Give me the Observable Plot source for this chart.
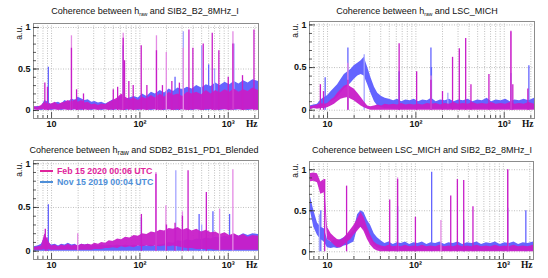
<!DOCTYPE html>
<html><head><meta charset="utf-8">
<script src="https://cdn.jsdelivr.net/npm/d3@7"></script>
<script src="https://cdn.jsdelivr.net/npm/@observablehq/plot@0.6"></script>
<style>
html,body{margin:0;padding:0;background:#fff;}
#wrap{position:relative;width:548px;height:278px;overflow:hidden;font-family:"Liberation Sans",Arial,sans-serif;color:#111;}
.panel{position:absolute;width:274px;height:139px;}
.title{position:absolute;white-space:nowrap;font-size:9px;line-height:11px;transform:translateX(-50%);}
.title sub{vertical-align:-2px;line-height:0;}
.lg{position:absolute;white-space:nowrap;font-weight:bold;font-size:8.8px;line-height:10px;}
.lgline{position:absolute;width:13px;height:2px;}
</style></head><body><div id="wrap"></div>
<script>
// ---------- data ----------
const xDomain = [6.25, 2200];
const F = [6.25,7,7.7,8.4,9.2,10,11,12,13,14.2,15.5,17,18.5,20,22,24,26,28.5,31,34,37,41,45,50,56,62,69,77,86,96,107,120,135,150,170,190,215,240,270,305,345,390,440,500,565,640,720,810,920,1040,1170,1320,1490,1680,1900,2200];

// Panel 1: h_raw vs SIB2_B2_8MHz_I
const m1Lo = [0.01,0.00,0.01,0.01,0.00,0.01,0.01,0.00,0.01,0.01,0.00,0.01,0.01,0.00,0.01,0.01,0.00,0.01,0.01,0.00,0.01,0.01,0.00,0.01,0.01,0.00,0.01,0.01,0.00,0.01,0.01,0.00,0.01,0.01,0.00,0.01,0.01,0.00,0.01,0.01,0.00,0.01,0.01,0.00,0.01,0.01,0.00,0.01,0.01,0.00,0.01,0.01,0.00,0.01,0.01,0.00];
const m1Hi = [0.05,0.04,0.06,0.10,0.08,0.08,0.10,0.07,0.09,0.10,0.12,0.10,0.13,0.10,0.12,0.09,0.10,0.07,0.08,0.06,0.08,0.07,0.10,0.12,0.15,0.20,0.16,0.13,0.15,0.12,0.16,0.14,0.18,0.15,0.20,0.16,0.22,0.18,0.20,0.17,0.22,0.20,0.22,0.19,0.24,0.20,0.24,0.21,0.25,0.22,0.26,0.22,0.25,0.23,0.27,0.24];
const b1Lo = [0.01,0.01,0.00,0.01,0.01,0.00,0.01,0.01,0.00,0.01,0.01,0.00,0.01,0.01,0.00,0.01,0.01,0.00,0.01,0.01,0.00,0.01,0.01,0.00,0.01,0.01,0.00,0.01,0.01,0.00,0.01,0.01,0.00,0.01,0.01,0.00,0.01,0.01,0.00,0.01,0.01,0.00,0.01,0.01,0.00,0.01,0.01,0.00,0.01,0.01,0.00,0.01,0.01,0.00,0.01,0.01];
const b1Hi = [0.04,0.05,0.05,0.12,0.10,0.07,0.09,0.10,0.08,0.12,0.10,0.14,0.12,0.16,0.14,0.12,0.13,0.10,0.11,0.09,0.10,0.08,0.10,0.13,0.12,0.18,0.14,0.15,0.17,0.15,0.20,0.17,0.22,0.20,0.24,0.21,0.26,0.23,0.27,0.25,0.28,0.26,0.30,0.27,0.31,0.29,0.33,0.30,0.34,0.31,0.35,0.32,0.36,0.33,0.37,0.35];
const m1Lines = [[8.4,0.33],[9.0,0.28],[16.8,0.75],[19.2,0.25],[23,0.2],[50,0.25],[56,0.28],[64.7,0.87],[67,0.6],[75,0.35],[84,0.3],[103.5,0.78],[120,0.3],[154,0.72],[180,0.3],[230,0.35],[280,0.33],[359,0.97],[398,0.75],[521,0.8],[659,0.93],[783,0.72],[1000,0.4],[1130,0.8],[1450,0.42],[1955,0.97]];
const m1Light = [[16.8,0.9],[64.7,0.93],[154,0.9],[199,0.7],[310,0.75],[1130,0.95]];
const b1Lines = [[9.2,0.52],[64.7,0.78],[250,0.4],[600,0.55]];
const b1Light = [[310,0.95],[500,0.78],[700,0.5],[1160,0.8]];

// Panel 2: h_raw vs LSC_MICH
const m2Lo = [0.00,0.02,0.01,0.02,0.02,0.03,0.05,0.07,0.10,0.13,0.14,0.15,0.13,0.11,0.08,0.05,0.03,0.01,0.00,0.00,0.00,0.00,0.00,0.00,0.00,0.00,0.00,0.00,0.00,0.00,0.00,0.00,0.00,0.00,0.00,0.00,0.00,0.00,0.00,0.00,0.00,0.00,0.00,0.00,0.00,0.00,0.00,0.00,0.00,0.00,0.00,0.00,0.00,0.00,0.00,0.00];
const m2Hi = [0.04,0.05,0.06,0.08,0.07,0.08,0.12,0.15,0.20,0.24,0.28,0.30,0.27,0.25,0.20,0.15,0.10,0.05,0.04,0.05,0.06,0.05,0.07,0.06,0.07,0.06,0.08,0.06,0.07,0.06,0.07,0.06,0.08,0.07,0.08,0.06,0.08,0.07,0.09,0.07,0.08,0.07,0.09,0.07,0.08,0.07,0.09,0.07,0.08,0.07,0.09,0.07,0.08,0.07,0.09,0.07];
const b2Lo = [0.01,0.02,0.02,0.03,0.05,0.07,0.10,0.12,0.15,0.20,0.25,0.28,0.32,0.36,0.40,0.42,0.40,0.30,0.20,0.10,0.05,0.03,0.02,0.02,0.01,0.01,0.01,0.01,0.01,0.01,0.01,0.01,0.01,0.01,0.01,0.01,0.01,0.01,0.01,0.01,0.01,0.01,0.01,0.01,0.01,0.01,0.01,0.01,0.01,0.01,0.01,0.01,0.01,0.01,0.01,0.01];
const b2Hi = [0.05,0.06,0.07,0.12,0.15,0.17,0.22,0.26,0.30,0.36,0.42,0.45,0.48,0.52,0.55,0.58,0.62,0.50,0.38,0.27,0.20,0.16,0.14,0.13,0.11,0.13,0.10,0.12,0.11,0.13,0.10,0.12,0.11,0.14,0.10,0.12,0.11,0.13,0.10,0.12,0.11,0.13,0.10,0.12,0.11,0.14,0.10,0.12,0.11,0.13,0.10,0.12,0.11,0.13,0.11,0.14];
const m2Lines = [[8.3,0.3],[9.0,0.22],[17,0.35],[64.6,0.78],[102,0.45],[148,0.35],[200,0.22],[260,0.62],[310,0.72],[366,0.84],[420,0.3],[671,0.42],[1190,0.92],[1250,0.3],[1850,0.25]];
const m2Light = [[17,0.55],[148,0.4],[1190,0.93]];
const b2Lines = [[9.4,0.38],[17,0.73],[64.6,0.45],[148,0.73],[150,0.5],[1190,0.43],[1900,0.52]];
const b2Light = [[26,0.65],[230,0.2]];

// Panel 3: h_raw vs SDB2_B1s1_PD1_Blended
const m3Lo = [0.01,0.01,0.01,0.02,0.02,0.01,0.01,0.01,0.01,0.01,0.01,0.01,0.01,0.01,0.01,0.01,0.01,0.01,0.02,0.02,0.02,0.03,0.03,0.04,0.03,0.05,0.04,0.05,0.04,0.06,0.05,0.06,0.05,0.06,0.05,0.06,0.05,0.06,0.05,0.04,0.03,0.03,0.02,0.02,0.02,0.02,0.01,0.01,0.01,0.01,0.01,0.01,0.01,0.01,0.01,0.01];
const m3Hi = [0.04,0.05,0.06,0.20,0.12,0.06,0.07,0.05,0.07,0.06,0.08,0.06,0.07,0.06,0.08,0.07,0.08,0.07,0.09,0.08,0.10,0.09,0.12,0.11,0.14,0.13,0.16,0.15,0.18,0.17,0.20,0.19,0.22,0.21,0.24,0.23,0.26,0.25,0.27,0.24,0.26,0.23,0.25,0.22,0.24,0.21,0.22,0.19,0.21,0.18,0.20,0.17,0.19,0.16,0.18,0.17];
const b3Lo = [0.00,0.00,0.00,0.00,0.00,0.00,0.00,0.00,0.00,0.00,0.00,0.00,0.00,0.00,0.00,0.00,0.00,0.00,0.00,0.00,0.00,0.00,0.00,0.00,0.00,0.00,0.00,0.00,0.00,0.00,0.00,0.00,0.00,0.00,0.00,0.00,0.00,0.00,0.00,0.00,0.00,0.00,0.00,0.00,0.00,0.00,0.00,0.00,0.00,0.00,0.00,0.00,0.00,0.00,0.00,0.00];
const b3Hi = [0.05,0.06,0.08,0.15,0.10,0.07,0.08,0.06,0.08,0.07,0.09,0.07,0.08,0.06,0.08,0.07,0.08,0.06,0.07,0.06,0.07,0.06,0.07,0.06,0.07,0.06,0.07,0.06,0.07,0.06,0.07,0.06,0.07,0.06,0.07,0.08,0.10,0.09,0.12,0.11,0.13,0.12,0.14,0.13,0.15,0.14,0.16,0.15,0.17,0.16,0.19,0.17,0.20,0.18,0.20,0.19];
const m3Lines = [[8.5,0.25],[8.9,0.15],[104,0.42],[152,0.88],[200,0.3],[250,0.32],[303,0.4],[351,0.92],[565,0.67]];
const m3Light = [[19.8,0.2],[152,0.9],[197,0.52],[303,0.45],[798,0.48],[1128,0.93]];
const b3Lines = [[9.2,0.53],[104,0.38],[468,0.42],[671,0.45],[1035,0.42]];
const b3Light = [[255,0.92],[500,0.3]];

// Panel 4: LSC_MICH vs SIB2_B2_8MHz_I
const m4Lo = [0.85,0.86,0.84,0.70,0.72,0.15,0.12,0.08,0.05,0.05,0.08,0.12,0.15,0.20,0.25,0.30,0.25,0.15,0.08,0.03,0.01,0.00,0.00,0.00,0.00,0.00,0.00,0.00,0.00,0.00,0.00,0.00,0.00,0.00,0.00,0.00,0.00,0.00,0.00,0.00,0.00,0.00,0.00,0.00,0.00,0.00,0.00,0.00,0.00,0.00,0.00,0.00,0.00,0.00,0.00,0.00];
const m4Hi = [0.95,0.96,0.95,0.85,0.88,0.30,0.22,0.18,0.15,0.14,0.17,0.22,0.27,0.32,0.40,0.48,0.42,0.30,0.20,0.12,0.09,0.07,0.06,0.08,0.06,0.07,0.06,0.08,0.06,0.07,0.06,0.08,0.06,0.07,0.06,0.08,0.06,0.07,0.06,0.08,0.06,0.07,0.06,0.08,0.06,0.07,0.06,0.08,0.06,0.07,0.06,0.08,0.06,0.07,0.06,0.08];
const b4Lo = [0.55,0.30,0.20,0.15,0.12,0.05,0.04,0.05,0.04,0.05,0.07,0.08,0.10,0.12,0.28,0.30,0.28,0.20,0.15,0.08,0.05,0.03,0.01,0.01,0.01,0.01,0.01,0.01,0.01,0.01,0.01,0.01,0.01,0.01,0.01,0.01,0.01,0.01,0.01,0.01,0.01,0.01,0.01,0.01,0.01,0.01,0.01,0.01,0.01,0.01,0.01,0.01,0.01,0.01,0.01,0.01];
const b4Hi = [0.72,0.50,0.35,0.30,0.28,0.15,0.12,0.14,0.13,0.15,0.17,0.20,0.22,0.26,0.45,0.50,0.48,0.38,0.32,0.22,0.17,0.13,0.10,0.12,0.09,0.11,0.10,0.12,0.09,0.11,0.10,0.12,0.09,0.11,0.10,0.12,0.09,0.11,0.10,0.12,0.09,0.11,0.10,0.12,0.09,0.11,0.10,0.12,0.09,0.11,0.10,0.12,0.09,0.11,0.10,0.12];
const m4Lines = [[9.3,0.88],[16.5,0.8],[51,0.63],[62.7,0.88],[100,0.42],[252,0.68],[300,0.88],[354,0.87],[451,0.55],[1120,1.0]];
const m4Light = [[62.7,0.9],[195,0.38],[1120,1.0]];
const b4Lines = [[8.4,0.5],[62.7,0.55],[153,0.97],[354,0.38],[1120,0.53],[1800,0.5]];
const b4Light = [[8.1,0.45]];

// axis tick labels
const xTickVals = [10, 100, 1000];
const xTickText = ["10", "10²", "10³"];
const yTickVals = [0, 0.5, 1];
const yTickText = ["0", "0.5", "1"];
const legendLabels = ["Feb 15 2020 00:06 UTC", "Nov 15 2019 00:04 UTC"];

// ---------- drawing ----------
const W = 274, H = 139;
const MAG = "#c81ec8", MAG_L = "#e48ae4", BLUE = "#6464ff", BLUE_L = "#a4a4ff";
const LEG_MAG = "#e0259c", LEG_BLUE = "#4f8fd8";
const majorX = [10, 100, 1000];
const minorX = [];
for (const d of [1, 10, 100, 1000]) for (let k = 2; k <= 9; k++) minorX.push(k * d);
const gridX = [...majorX, ...minorX].filter(f => f >= xDomain[0] && f <= xDomain[1]);
const minorXin = minorX.filter(f => f >= xDomain[0] && f <= xDomain[1]);
const minorY = d3.range(0, 11).map(i => i / 10);

const panels = [
  {left:0, top:0, mL:33, mR:16, mT:23, mB:21, y:[-0.096,1.048], mLo:m1Lo, mHi:m1Hi, bLo:b1Lo, bHi:b1Hi, mLines:m1Lines, mLight:m1Light, bLines:b1Lines, bLight:b1Light,
   title:'Coherence between h<sub style="font-size:5px">raw</sub> and SIB2_B2_8MHz_I', tx:145, ty:12},
  {left:274, top:0, mL:35, mR:14, mT:21, mB:21, y:[-0.097,1.04], mLo:m2Lo, mHi:m2Hi, bLo:b2Lo, bHi:b2Hi, mLines:m2Lines, mLight:m2Light, bLines:b2Lines, bLight:b2Light,
   title:'Coherence between h<sub style="font-size:5px">raw</sub> and LSC_MICH', tx:417, ty:12},
  {left:0, top:139, mL:33, mR:16, mT:21, mB:19, y:[-0.095,1.037], mLo:m3Lo, mHi:m3Hi, bLo:b3Lo, bHi:b3Hi, mLines:m3Lines, mLight:m3Light, bLines:b3Lines, bLight:b3Light,
   title:'Coherence between h<sub style="font-size:7px">raw</sub> and SDB2_B1s1_PD1_Blended', tx:144, ty:151},
  {left:274, top:139, mL:35, mR:15, mT:22, mB:19, y:[-0.094,1.1], mLo:m4Lo, mHi:m4Hi, bLo:b4Lo, bHi:b4Hi, mLines:m4Lines, mLight:m4Light, bLines:b4Lines, bLight:b4Light,
   title:'Coherence between LSC_MICH and SIB2_B2_8MHz_I', tx:422, ty:151}
];

const wrap = document.getElementById("wrap");
for (const p of panels) {
  const rows = F.map((f, i) => ({f, blo: p.bLo[i], bhi: p.bHi[i], mlo: p.mLo[i], mhi: p.mHi[i]}));
  const innerH = H - p.mT - p.mB, innerW = W - p.mL - p.mR;
  const spike = (arr, color) => Plot.ruleX(arr, {x: d => d[0], y1: 0, y2: d => d[1], stroke: color, strokeWidth: 1.3});
  const svg = Plot.plot({
    width: W, height: H,
    marginLeft: p.mL, marginRight: p.mR, marginTop: p.mT, marginBottom: p.mB,
    x: {type: "log", domain: xDomain, axis: null},
    y: {domain: p.y, axis: null},
    style: {fontFamily: '"Liberation Sans", Arial, sans-serif', fontSize: "9px", background: "transparent", overflow: "visible", color: "#111"},
    marks: [
      Plot.ruleX(gridX, {stroke: "#b0b0b0", strokeWidth: 0.8, strokeDasharray: "1,1.5"}),
      Plot.ruleY(yTickVals, {stroke: "#b0b0b0", strokeWidth: 0.8, strokeDasharray: "1,1.5"}),
      Plot.areaY(rows, {x: "f", y1: "blo", y2: "bhi", fill: BLUE}),
      spike(p.bLight, BLUE_L),
      spike(p.bLines, BLUE),
      Plot.areaY(rows, {x: "f", y1: "mlo", y2: "mhi", fill: MAG, fillOpacity: 0.95}),
      spike(p.mLight, MAG_L),
      spike(p.mLines, MAG),
      Plot.frame({stroke: "#8c8c8c", strokeWidth: 1}),
      Plot.ruleX(minorXin, {stroke: "#333", strokeWidth: 0.8, insetTop: innerH - 3}),
      Plot.ruleX(majorX, {stroke: "#333", strokeWidth: 0.8, insetTop: innerH - 6}),
      Plot.ruleY(minorY, {stroke: "#333", strokeWidth: 0.8, insetRight: innerW - 3}),
      Plot.ruleY(yTickVals, {stroke: "#333", strokeWidth: 0.8, insetRight: innerW - 6}),
      Plot.text(xTickVals, {x: d => d, text: (d, i) => xTickText[i], frameAnchor: "bottom", dy: 8, fontWeight: "bold", fontSize: 9}),
      Plot.text(yTickVals, {y: d => d, text: (d, i) => yTickText[i], frameAnchor: "left", textAnchor: "end", dx: -3, fontWeight: "bold", fontSize: 9}),
      Plot.text(["a.u."], {frameAnchor: "top-left", dx: -18, dy: 2, rotate: -90, textAnchor: "end", fontSize: 8.5}),
      Plot.text(["Hz"], {frameAnchor: "bottom-right", dx: -1, dy: 8, textAnchor: "end", fontWeight: "bold", fontSize: 9.5, fontFamily: '"Liberation Serif", serif'})
    ]
  });
  const div = document.createElement("div");
  div.className = "panel";
  div.style.left = p.left + "px";
  div.style.top = p.top + "px";
  div.appendChild(svg);
  wrap.appendChild(div);
  const t = document.createElement("div");
  t.className = "title";
  t.innerHTML = p.title;
  t.style.left = p.tx + "px";
  t.style.top = (p.ty - 6) + "px";
  wrap.appendChild(t);
}
// legend (panel 3)
[[LEG_MAG, 171.3], [LEG_BLUE, 182.3]].forEach(([c, y], i) => {
  const ln = document.createElement("div");
  ln.className = "lgline"; ln.style.background = c;
  ln.style.left = "40px"; ln.style.top = (y - 1) + "px";
  wrap.appendChild(ln);
  const tx = document.createElement("div");
  tx.className = "lg"; tx.style.color = c;
  tx.style.left = "57px"; tx.style.top = (y - 5) + "px";
  tx.textContent = legendLabels[i];
  wrap.appendChild(tx);
});
</script></body></html>
